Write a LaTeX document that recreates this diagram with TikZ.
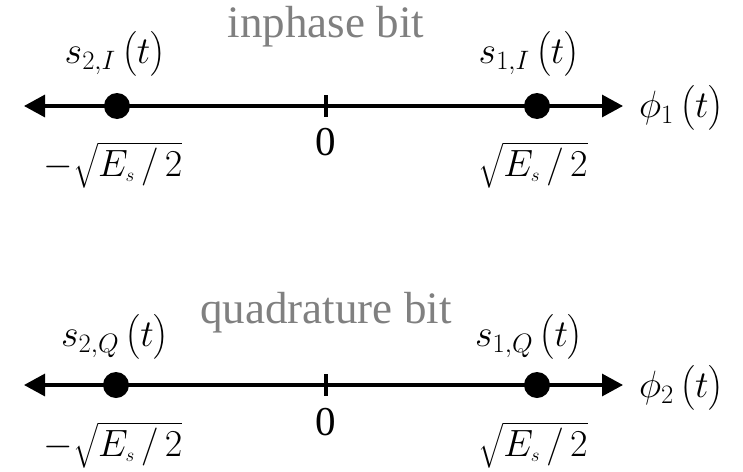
\RequirePackage{fix-cm}
\documentclass[tikz,border=0pt]{standalone}
\usepackage{exscale}
\usepackage{fontspec}
\setmainfont{Liberation Serif}
\usetikzlibrary{arrows.meta}
\begin{document}
\begin{tikzpicture}[x=1pt,y=-1pt,
  axis/.style={line width=3.2pt,{Triangle[length=21pt,width=22pt]}-{Triangle[length=21pt,width=22pt]}},
  dot/.style={circle,fill=black,inner sep=0pt,minimum size=26pt},
  tk/.style={line width=3.2pt},
  lbl/.style={inner sep=0pt,font=\fontsize{38}{44}\selectfont},
  zero/.style={inner sep=0pt,font=\fontsize{41}{46}\selectfont},
  title/.style={inner sep=0pt,anchor=base,text=black!50,font=\fontsize{45}{50}\selectfont}]
\useasboundingbox (0,0) rectangle (743,471);
% top axis
\coordinate (L1) at (24,106);
\coordinate (R1) at (623,106);
\draw[axis] (L1) -- (R1);
\node[dot] (d21) at (117,106) {};
\node[dot] (d11) at (537,106) {};
\draw[tk] (326,95) -- (326,117);
\node[title] (tI) at (326,37) {inphase bit};
\node[lbl] (s2I) at (115,54) {$s_{2,I}\,\bigl(t\bigr)$};
\node[lbl] (s1I) at (529,54) {$s_{1,I}\,\bigl(t\bigr)$};
\node[lbl,anchor=west] (ph1) at (639,108) {$\phi_{1}\,\bigl(t\bigr)$};
\node[zero] (z1) at (326,142) {0};
\node[lbl] (m1) at (113,165) {$-\sqrt{E_{\scriptscriptstyle s}\,/\,2}$};
\node[lbl] (p1) at (533,165) {$\sqrt{E_{\scriptscriptstyle s}\,/\,2}$};
% bottom axis
\coordinate (L2) at (24,385);
\coordinate (R2) at (623,385);
\draw[axis] (L2) -- (R2);
\node[dot] (d22) at (116,385) {};
\node[dot] (d12) at (537,385) {};
\draw[tk] (326,374) -- (326,396);
\node[title] (tQ) at (326,323) {quadrature bit};
\node[lbl] (s2Q) at (115,337) {$s_{2,Q}\,\bigl(t\bigr)$};
\node[lbl] (s1Q) at (529,337) {$s_{1,Q}\,\bigl(t\bigr)$};
\node[lbl,anchor=west] (ph2) at (639,388) {$\phi_{2}\,\bigl(t\bigr)$};
\node[zero] (z2) at (326,422) {0};
\node[lbl] (m2) at (113,445) {$-\sqrt{E_{\scriptscriptstyle s}\,/\,2}$};
\node[lbl] (p2) at (533,445) {$\sqrt{E_{\scriptscriptstyle s}\,/\,2}$};
\end{tikzpicture}
\end{document}
